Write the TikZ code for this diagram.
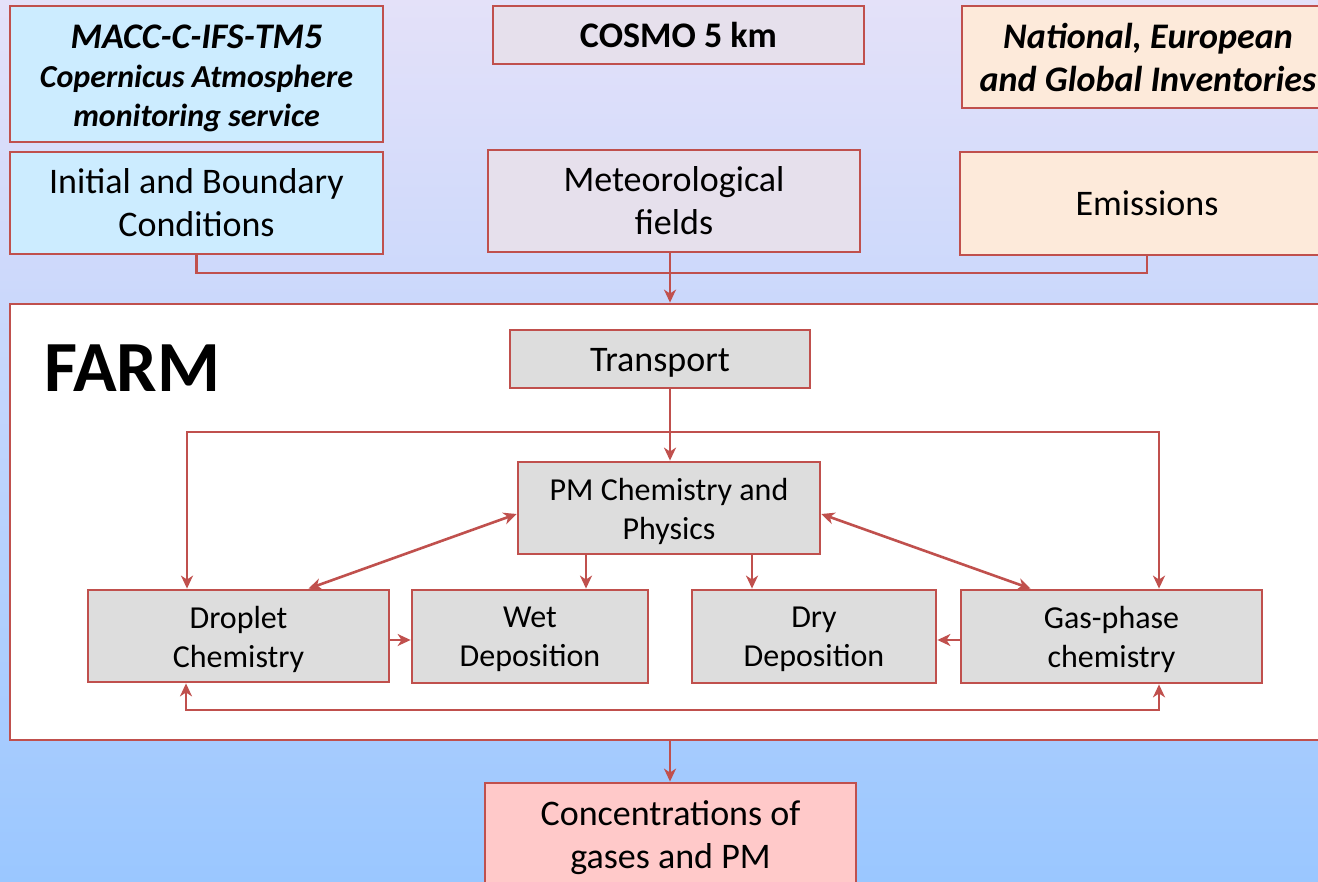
\documentclass[tikz,border=0pt]{standalone}
\usepackage{fontspec}
\setmainfont{Carlito}
\usetikzlibrary{arrows.meta,calc}
\definecolor{edge}{HTML}{C0504D}
\definecolor{cyanf}{HTML}{CCECFF}
\definecolor{lilacf}{HTML}{E6E0EC}
\definecolor{peachf}{HTML}{FDEADA}
\definecolor{grayf}{HTML}{DDDDDD}
\definecolor{pinkf}{HTML}{FFC9C9}
\definecolor{bgtop}{HTML}{E4E1F9}
\definecolor{bgbot}{HTML}{9AC7FF}
\tikzset{
  box/.style={draw=edge, line width=2.8pt, inner sep=0pt, align=center},
  lbl/.style={inner sep=0pt, align=center},
  bigtext/.style={font=\fontsize{36}{43}\selectfont},
  smalltext/.style={font=\fontsize{32}{39}\selectfont},
  headtext/.style={font=\bfseries\itshape\fontsize{36}{43}\selectfont},
  conn/.style={draw=edge, line width=2.6pt},
  arr/.style={conn, -{Stealth[length=13pt,width=12pt,inset=4pt]}},
  darr/.style={conn, {Stealth[length=13pt,width=12pt,inset=4pt]}-{Stealth[length=13pt,width=12pt,inset=4pt]}}
}
\begin{document}
\begin{tikzpicture}[x=1pt,y=-1pt]
\useasboundingbox (0,0) rectangle (1318,882);
\shade[top color=bgtop, bottom color=bgbot] (0,0) rectangle (1318,882);

% top row
\node[box, fill=cyanf, minimum width=373pt, minimum height=136pt] (macc) at (196.5,74) {};
\node[lbl, font=\bfseries\itshape\fontsize{32}{39}\selectfont] (maccT) at ([yshift=-4pt]macc.center)
  {{\fontsize{36}{39}\selectfont MACC-C-IFS-TM5}\\Copernicus Atmosphere\\monitoring service};
\node[box, font=\bfseries\fontsize{36}{43}\selectfont, fill=lilacf, minimum width=371pt, minimum height=58pt] (cosmo) at (678.5,35) {COSMO 5 km};
\node[box, headtext, fill=peachf, minimum width=372pt, minimum height=102pt] (inv) at (1148,57)
  {National, European\\and Global Inventories};

% second row
\node[box, bigtext, fill=cyanf, minimum width=373pt, minimum height=102pt] (init) at (196.5,203)
  {Initial and Boundary\\Conditions};
\node[box, bigtext, fill=lilacf, minimum width=372pt, minimum height=102pt] (met) at (674,201)
  {Meteorological\\fields};
\node[box, bigtext, fill=peachf, minimum width=374pt, minimum height=103pt] (emis) at (1147,203.5)
  {Emissions};

% FARM frame
\node[box, fill=white, minimum width=1320pt, minimum height=436pt] (farm) at (670,522) {};
\node[font=\bfseries\fontsize{72}{72}\selectfont, anchor=base west, inner sep=0pt] (farmlabel) at (44,392) {FARM};

% inner boxes
\node[box, fill=grayf, minimum width=300pt, minimum height=58pt] (trans) at (660,359) {};
\node[lbl, bigtext] (transT) at ([yshift=-4pt]trans.center) {Transport};
\node[box, fill=grayf, minimum width=302pt, minimum height=92pt] (pm) at (669,508) {};
\node[lbl, smalltext] (pmT) at ([yshift=-3pt]pm.center) {PM Chemistry and\\Physics};
\node[box, fill=grayf, minimum width=301pt, minimum height=92pt] (drop) at (238.5,636) {};
\node[lbl, smalltext] (dropT) at ([yshift=-3pt]drop.center) {Droplet\\Chemistry};
\node[box, fill=grayf, minimum width=236pt, minimum height=93pt] (wet) at (530,636.5) {};
\node[lbl, smalltext] (wetT) at ([yshift=-3pt]wet.center) {Wet\\Deposition};
\node[box, fill=grayf, minimum width=244pt, minimum height=93pt] (dry) at (814,636.5) {};
\node[lbl, smalltext] (dryT) at ([yshift=-3pt]dry.center) {Dry\\Deposition};
\node[box, fill=grayf, minimum width=301pt, minimum height=93pt] (gas) at (1111.5,636.5) {};
\node[lbl, smalltext] (gasT) at ([yshift=-3pt]gas.center) {Gas-phase\\chemistry};

% output
\node[box, fill=pinkf, minimum width=371pt, minimum height=104pt] (conc) at (670.5,835) {};
\node[lbl, bigtext] (concT) at ([yshift=-3pt]conc.center) {Concentrations of\\gases and PM};

% helper coordinates
\coordinate (spine) at (670,0);
\coordinate (bus) at (0,273);
\coordinate (tl) at (187,432);
\coordinate (tr) at (1159,432);
\coordinate (bl) at (186,710);
\coordinate (br) at (1159,710);
\coordinate (wx) at (586,0);
\coordinate (dx) at (752,0);
\coordinate (hy) at (0,640);

% connectors
\draw[conn] (init.south) -- (init.south |- bus) -| (emis.south);
\draw[arr] (met.south -| spine) -- (farm.north -| spine);
\draw[arr] (trans.south -| spine) -- (pm.north -| spine);
\draw[darr] (tl |- drop.north) -- (tl) -- (tr) -- (tr |- gas.north);
\draw[darr] (bl |- drop.south) -- (bl) -- (br) -- (br |- gas.south);
\draw[arr] (pm.south -| wx) -- (wet.north -| wx);
\draw[arr] (pm.south -| dx) -- (dry.north -| dx);
\draw[darr] ($(pm.west)+(0,6)$) -- ($(drop.north west)+(222,0)$);
\draw[darr] ($(pm.east)+(0,6)$) -- ($(gas.north west)+(71,0)$);
\draw[arr] (drop.east |- hy) -- (wet.west |- hy);
\draw[arr] (gas.west |- hy) -- (dry.east |- hy);
\draw[arr] (farm.south -| spine) -- (conc.north -| spine);
\end{tikzpicture}
\end{document}
